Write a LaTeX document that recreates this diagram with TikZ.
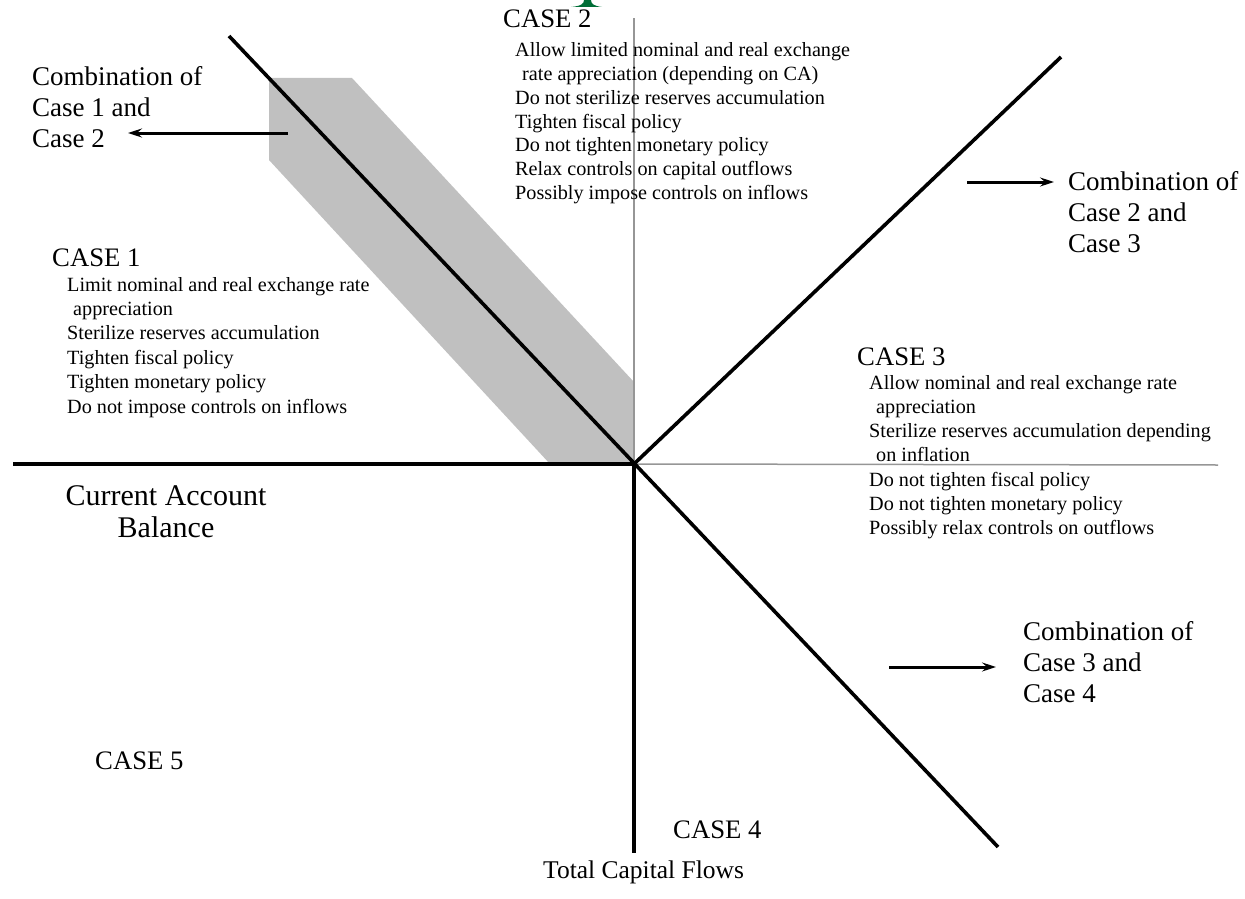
\documentclass[tikz,border=0pt]{standalone}
\usepackage{fontspec}
\setmainfont{Liberation Serif}
\usetikzlibrary{arrows.meta}
\definecolor{bandgray}{RGB}{192,192,192}
\definecolor{axisgray}{RGB}{150,150,150}
\definecolor{topgreen}{RGB}{0,110,55}
\begin{document}
\begin{tikzpicture}[x=1pt,y=-1pt,
  heavy/.style={line width=3.6pt, line cap=butt},
  faint/.style={line width=1.5pt, draw=axisgray},
  head/.style={font=\fontsize{26.7}{30}\selectfont, anchor=base west, inner sep=0pt},
  body/.style={font=\fontsize{20.2}{24}\selectfont, anchor=base west, inner sep=0pt},
  combolabel/.style={font=\rmfamily\fontsize{27}{31}\selectfont, anchor=base west, inner sep=0pt},
  pointer/.style={line width=3pt, -{Stealth[length=14pt,width=9pt,inset=5pt]}},
]
\useasboundingbox (0,0) rectangle (1245,899);

% shaded band
\fill[bandgray] (269,78) -- (352,78) -- (634,382) -- (634,464) -- (550,464) -- (269,160) -- cycle;

% green mark at top
\fill[topgreen] (571,7) .. controls (581,6) and (584,4) .. (584,0) -- (591,0) .. controls (591,4) and (594,6) .. (602,7) -- cycle;

% axes and diagonals
\coordinate (O) at (634,464);
\coordinate (W) at (13,464);
\coordinate (E) at (1218,465);
\coordinate (N) at (634,18);
\coordinate (S) at (634,853);
\coordinate (NW) at (229,36);
\coordinate (SE) at (998,847);
\coordinate (NE) at (1061,57);

\draw[faint] (O) -- (N);
\draw[faint] (O) -- (E);
\draw[heavy] (W) -- (O);
\draw[heavy] (O) -- (S);
\draw[heavy] (NW) -- (SE);
\draw[heavy] (O) -- (NE);

% CASE 1
\node[head] (c1) at (52,266) {CASE 1};
\foreach \t [count=\i] in {Limit nominal and real exchange rate,\hspace*{6pt}appreciation,Sterilize reserves accumulation,Tighten fiscal policy,Tighten monetary policy,Do not impose controls on inflows}
  \node[body] (c1l\i) at (67,{291+24.4*(\i-1)}) {\t};

% CASE 2
\node[head] (c2) at (503,28) {CASE 2};
\foreach \t [count=\i] in {Allow limited nominal and real exchange,\hspace*{7pt}rate appreciation (depending on CA),Do not sterilize reserves accumulation,Tighten fiscal policy,Do not tighten monetary policy,Relax controls on capital outflows,Possibly impose controls on inflows}
  \node[body] (c2l\i) at (515,{57+23.7*(\i-1)}) {\t};

% CASE 3
\node[head] (c3) at (857,365) {CASE 3};
\foreach \t [count=\i] in {Allow nominal and real exchange rate,\hspace*{7pt}appreciation,Sterilize reserves accumulation depending,\hspace*{7pt}on inflation,Do not tighten fiscal policy,Do not tighten monetary policy,Possibly relax controls on outflows}
  \node[body] (c3l\i) at (869,{389+24.3*(\i-1)}) {\t};

% CASE 4, CASE 5
\node[head] (c4) at (673,838) {CASE 4};
\node[head] (c5) at (95,769) {CASE 5};

% axis titles
\node[font=\fontsize{25.5}{31}\selectfont, anchor=base west, inner sep=0pt] (tcf) at (543,878) {Total Capital Flows};
\node[font=\fontsize{30}{32}\selectfont, align=center, inner sep=0pt] (cab) at (166,512) {Current Account\\Balance};

% combination labels
\node[combolabel] (k1a) at (32,85) {Combination of};
\node[combolabel] (k1b) at (32,116) {Case 1 and};
\node[combolabel] (k1c) at (32,147) {Case 2};
\coordinate (a1s) at (288,133);
\coordinate (a1e) at (128,133);
\draw[pointer] (a1s) -- (a1e);

\node[combolabel] (k2a) at (1068,190) {Combination of};
\node[combolabel] (k2b) at (1068,221) {Case 2 and};
\node[combolabel] (k2c) at (1068,252) {Case 3};
\coordinate (a2s) at (967,182);
\coordinate (a2e) at (1054,182);
\draw[pointer] (a2s) -- (a2e);

\node[combolabel] (k3a) at (1023,640) {Combination of};
\node[combolabel] (k3b) at (1023,671) {Case 3 and};
\node[combolabel] (k3c) at (1023,702) {Case 4};
\coordinate (a3s) at (889,667);
\coordinate (a3e) at (996,667);
\draw[pointer] (a3s) -- (a3e);
\end{tikzpicture}
\end{document}
